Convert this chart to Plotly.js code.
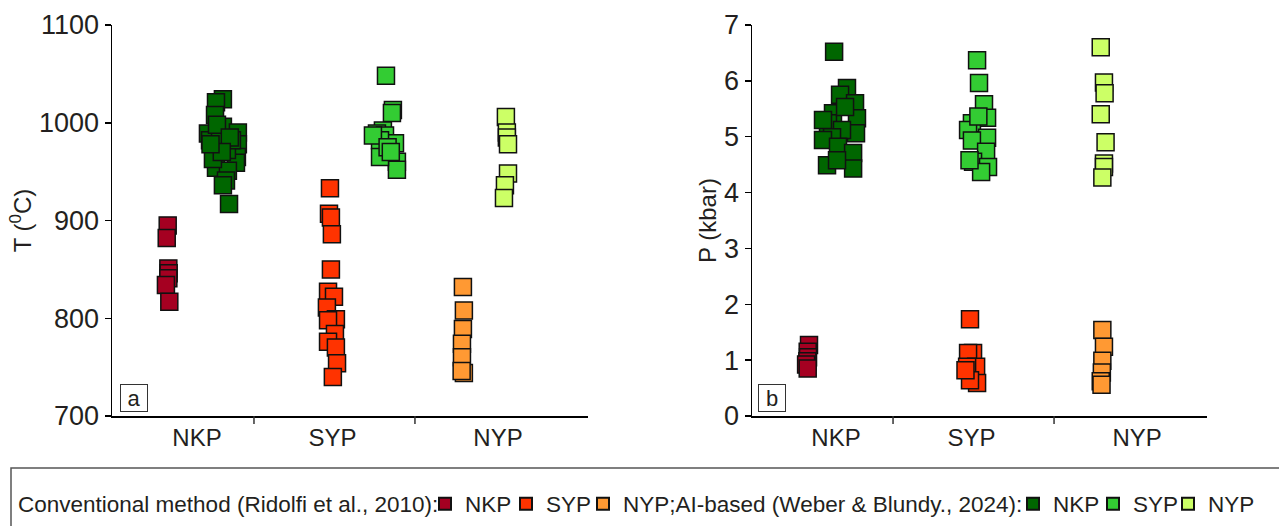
<!DOCTYPE html>
<html>
<head>
<meta charset="utf-8">
<script src="https://cdn.plot.ly/plotly-3.0.1.min.js"></script>
<style>html,body{margin:0;padding:0;background:#fff;}#chart{width:1279px;height:526px;}</style>
</head>
<body>
<div id="chart"></div>
<script>
// ---- categories / labels ----
const categories = ['NKP', 'SYP', 'NYP'];
const categoryLabelPos = [0.146, 0.988, 2.016];
const categoryDividers = [0.5, 1.5];
const convTitle = 'Conventional method (Ridolfi et al., 2010):';
const aiTitle = 'AI-based (Weber & Blundy., 2024):';

// ---- colours ----
const convColors = ['#A50021', '#FF3300', '#FF9933'];
const aiColors = ['#006600', '#33CC33', '#CCFF66'];

// ---- Panel a: temperature (°C) ----
const T_conv_NKP = [895, 882, 851, 846, 841, 834, 817];
const T_conv_NKP_x = [-0.036, -0.042, -0.032, -0.03, -0.032, -0.047, -0.026];
const T_ai_NKP = [1024, 1021, 1008, 996, 989, 990, 978, 965, 959, 982, 975, 972, 954, 951, 941, 936, 917, 984, 963, 982, 998, 985, 970, 978];
const T_ai_NKP_x = [0.307, 0.264, 0.258, 0.307, 0.214, 0.40, 0.40, 0.394, 0.388, 0.227, 0.258, 0.332, 0.264, 0.338, 0.326, 0.307, 0.345, 0.289, 0.245, 0.363, 0.27, 0.35, 0.30, 0.23];
const T_conv_SYP = [933, 907, 903, 886, 850, 827, 822, 811, 799, 798, 784, 776, 770, 754, 740];
const T_conv_SYP_x = [0.972, 0.966, 0.978, 0.984, 0.978, 0.96, 0.997, 0.953, 1.009, 0.96, 1.003, 0.96, 1.009, 1.016, 0.99];
const T_ai_SYP = [1048, 1013, 1010, 992, 989, 987, 979, 982, 960, 952, 965, 987, 975, 970];
const T_ai_SYP_x = [1.32, 1.363, 1.357, 1.301, 1.264, 1.314, 1.376, 1.283, 1.388, 1.388, 1.283, 1.239, 1.33, 1.35];
const T_conv_NYP = [832, 808, 789, 774, 760, 744, 746];
const T_conv_NYP_x = [1.798, 1.804, 1.798, 1.792, 1.792, 1.804, 1.79];
const T_ai_NYP = [1006, 990, 985, 978, 948, 936, 923];
const T_ai_NYP_x = [2.065, 2.071, 2.071, 2.078, 2.078, 2.059, 2.053];

// ---- Panel b: pressure (kbar) ----
const P_conv_NKP = [1.27, 1.15, 1.05, 0.98, 0.92, 0.85];
const P_conv_NKP_x = [-0.022, -0.03, -0.028, -0.032, -0.04, -0.03];
const P_ai_NKP = [6.52, 5.87, 5.75, 5.60, 5.33, 5.42, 5.24, 5.30, 5.06, 5.12, 4.99, 4.94, 4.82, 4.71, 4.49, 4.43, 4.58, 5.53];
const P_ai_NKP_x = [0.134, 0.214, 0.171, 0.264, 0.276, 0.127, 0.096, 0.065, 0.27, 0.183, 0.121, 0.065, 0.158, 0.252, 0.09, 0.252, 0.152, 0.202];
const P_conv_SYP = [1.73, 1.13, 1.13, 0.88, 0.88, 0.59, 0.64, 0.82];
const P_conv_SYP_x = [0.978, 0.997, 0.966, 1.016, 0.96, 1.022, 0.978, 0.95];
const P_ai_SYP = [6.37, 5.96, 5.58, 5.34, 5.24, 5.12, 4.98, 4.93, 4.73, 4.55, 4.46, 4.37, 4.58, 5.36];
const P_ai_SYP_x = [1.022, 1.034, 1.065, 1.084, 0.99, 0.966, 1.084, 0.99, 1.078, 0.997, 1.09, 1.047, 0.975, 1.03];
const P_conv_NYP = [1.54, 1.24, 0.99, 0.78, 0.62, 0.56];
const P_conv_NYP_x = [1.80, 1.81, 1.80, 1.797, 1.79, 1.795];
const P_ai_NYP = [6.60, 5.97, 5.78, 5.40, 4.90, 4.52, 4.46, 4.27];
const P_ai_NYP_x = [1.79, 1.81, 1.814, 1.79, 1.82, 1.81, 1.81, 1.80];

const FONT = '"Liberation Sans", Arial, sans-serif';
const TXT = '#231F20';

function mk(x, y, color, name, xa, ya, showleg, group, lw) {
  const t = {
    type: 'scatter', mode: 'markers', x: x, y: y, name: name,
    xaxis: xa, yaxis: ya, showlegend: showleg, legendgroup: group,
    marker: {symbol: 'square', size: 17, color: color, line: {color: '#111', width: 1.5}},
    hoverinfo: 'y'
  };
  if (lw) t.legendwidth = lw;
  return t;
}

// legend entry widths (spacing of the one-row legend)
const legendWidths = [36, 32, 385, 35, 30, 50];

const traces = [
  mk(T_conv_NKP_x, T_conv_NKP, convColors[0], categories[0], 'x', 'y', true, 'c0', legendWidths[0]),
  mk(T_conv_SYP_x, T_conv_SYP, convColors[1], categories[1], 'x', 'y', true, 'c1', legendWidths[1]),
  mk(T_conv_NYP_x, T_conv_NYP, convColors[2], categories[2] + ';' + aiTitle, 'x', 'y', true, 'c2', legendWidths[2]),
  mk(T_ai_NKP_x, T_ai_NKP, aiColors[0], categories[0], 'x', 'y', true, 'a0', legendWidths[3]),
  mk(T_ai_SYP_x, T_ai_SYP, aiColors[1], categories[1], 'x', 'y', true, 'a1', legendWidths[4]),
  mk(T_ai_NYP_x, T_ai_NYP, aiColors[2], categories[2], 'x', 'y', true, 'a2', legendWidths[5]),
  mk(P_conv_NKP_x, P_conv_NKP, convColors[0], categories[0], 'x2', 'y2', false, 'c0'),
  mk(P_conv_SYP_x, P_conv_SYP, convColors[1], categories[1], 'x2', 'y2', false, 'c1'),
  mk(P_conv_NYP_x, P_conv_NYP, convColors[2], categories[2], 'x2', 'y2', false, 'c2'),
  mk(P_ai_NKP_x, P_ai_NKP, aiColors[0], categories[0], 'x2', 'y2', false, 'a0'),
  mk(P_ai_SYP_x, P_ai_SYP, aiColors[1], categories[1], 'x2', 'y2', false, 'a1'),
  mk(P_ai_NYP_x, P_ai_NYP, aiColors[2], categories[2], 'x2', 'y2', false, 'a2')
];

const W = 1279, H = 526;
const yDom = [(H - 416) / H, (H - 25) / H];

function xax(dom, rng, anchor) {
  return {
    domain: dom, range: rng, anchor: anchor,
    showline: true, linecolor: '#000', linewidth: 1.5, mirror: false,
    showgrid: false, zeroline: false,
    tickmode: 'array', tickvals: categoryLabelPos, ticktext: categories,
    ticks: '', ticklabelstandoff: 0,
    tickfont: {family: FONT, size: 24, color: TXT}, fixedrange: true
  };
}
function yax(dom, rng, anchor, tickvals, title, standoff) {
  return {
    domain: dom, range: rng, anchor: anchor,
    showline: true, linecolor: '#000', linewidth: 1.5,
    showgrid: false, zeroline: false,
    tickmode: 'array', tickvals: tickvals,
    ticks: 'outside', ticklen: 6, tickwidth: 1.5, tickcolor: '#000',
    ticklabelstandoff: 0,
    tickfont: {family: FONT, size: 27, color: TXT},
    title: {text: title, font: {family: FONT, size: 24, color: TXT}, standoff: standoff},
    fixedrange: true
  };
}

const shapes = [];
['x', 'x2'].forEach(function (xa) {
  const ya = xa === 'x' ? 'y' : 'y2';
  categoryDividers.forEach(function (d) {
    shapes.push({type: 'line', xref: xa, yref: ya + ' domain', ysizemode: 'pixel', yanchor: 0,
      x0: d, x1: d, y0: 0, y1: -8, line: {color: '#333', width: 1.5}});
  });
});
// legend frame
shapes.push({type: 'rect', xref: 'paper', yref: 'paper', x0: 11 / W, x1: 1.02, y0: -0.05, y1: (H - 468) / H,
  line: {color: '#555', width: 1.5}, fillcolor: 'rgba(0,0,0,0)'});

const legendY = (H - 504) / H;
const annotations = [
  {text: 'a', xref: 'x domain', yref: 'y domain', x: (134 - 112) / 476, y: (416 - 398) / 391,
   xanchor: 'center', yanchor: 'middle',
   showarrow: false, font: {family: FONT, size: 22, color: TXT}, bordercolor: '#333', borderwidth: 1,
   width: 26, height: 26, borderpad: 0, bgcolor: '#fff'},
  {text: 'b', xref: 'x2 domain', yref: 'y2 domain', x: (772 - 752) / 455, y: (416 - 398) / 391,
   xanchor: 'center', yanchor: 'middle',
   showarrow: false, font: {family: FONT, size: 22, color: TXT}, bordercolor: '#333', borderwidth: 1,
   width: 26, height: 26, borderpad: 0, bgcolor: '#fff'},
  // legend heading for the first method
  {text: convTitle, xref: 'paper', yref: 'paper', x: 16 / W, y: legendY, xanchor: 'left', yanchor: 'middle',
   showarrow: false, font: {family: FONT, size: 22.5, color: TXT}}
];

const layout = {
  width: W, height: H,
  margin: {l: 0, r: 0, t: 0, b: 0},
  paper_bgcolor: '#fff', plot_bgcolor: '#fff',
  font: {family: FONT, color: TXT},
  xaxis: xax([112 / W, 588 / W], [-0.382, 2.575], 'y'),
  yaxis: yax(yDom, [700, 1100], 'x', [700, 800, 900, 1000, 1100], 'T (<sup>0</sup>C)', 0),
  xaxis2: xax([752 / W, 1207 / W], [-0.376, 2.450], 'y2'),
  yaxis2: yax(yDom, [0, 7], 'x2', [0, 1, 2, 3, 4, 5, 6, 7], 'P (kbar)', 0),
  showlegend: true,
  legend: {
    orientation: 'h', x: 425 / W, xanchor: 'left', y: legendY, yanchor: 'middle',
    font: {family: FONT, size: 22.5, color: TXT},
    itemsizing: 'constant', itemwidth: 30, bgcolor: 'rgba(0,0,0,0)', traceorder: 'normal',
    borderwidth: 0
  },
  shapes: shapes,
  annotations: annotations
};

Plotly.newPlot('chart', traces, layout, {displayModeBar: false, staticPlot: true});
</script>
</body>
</html>
